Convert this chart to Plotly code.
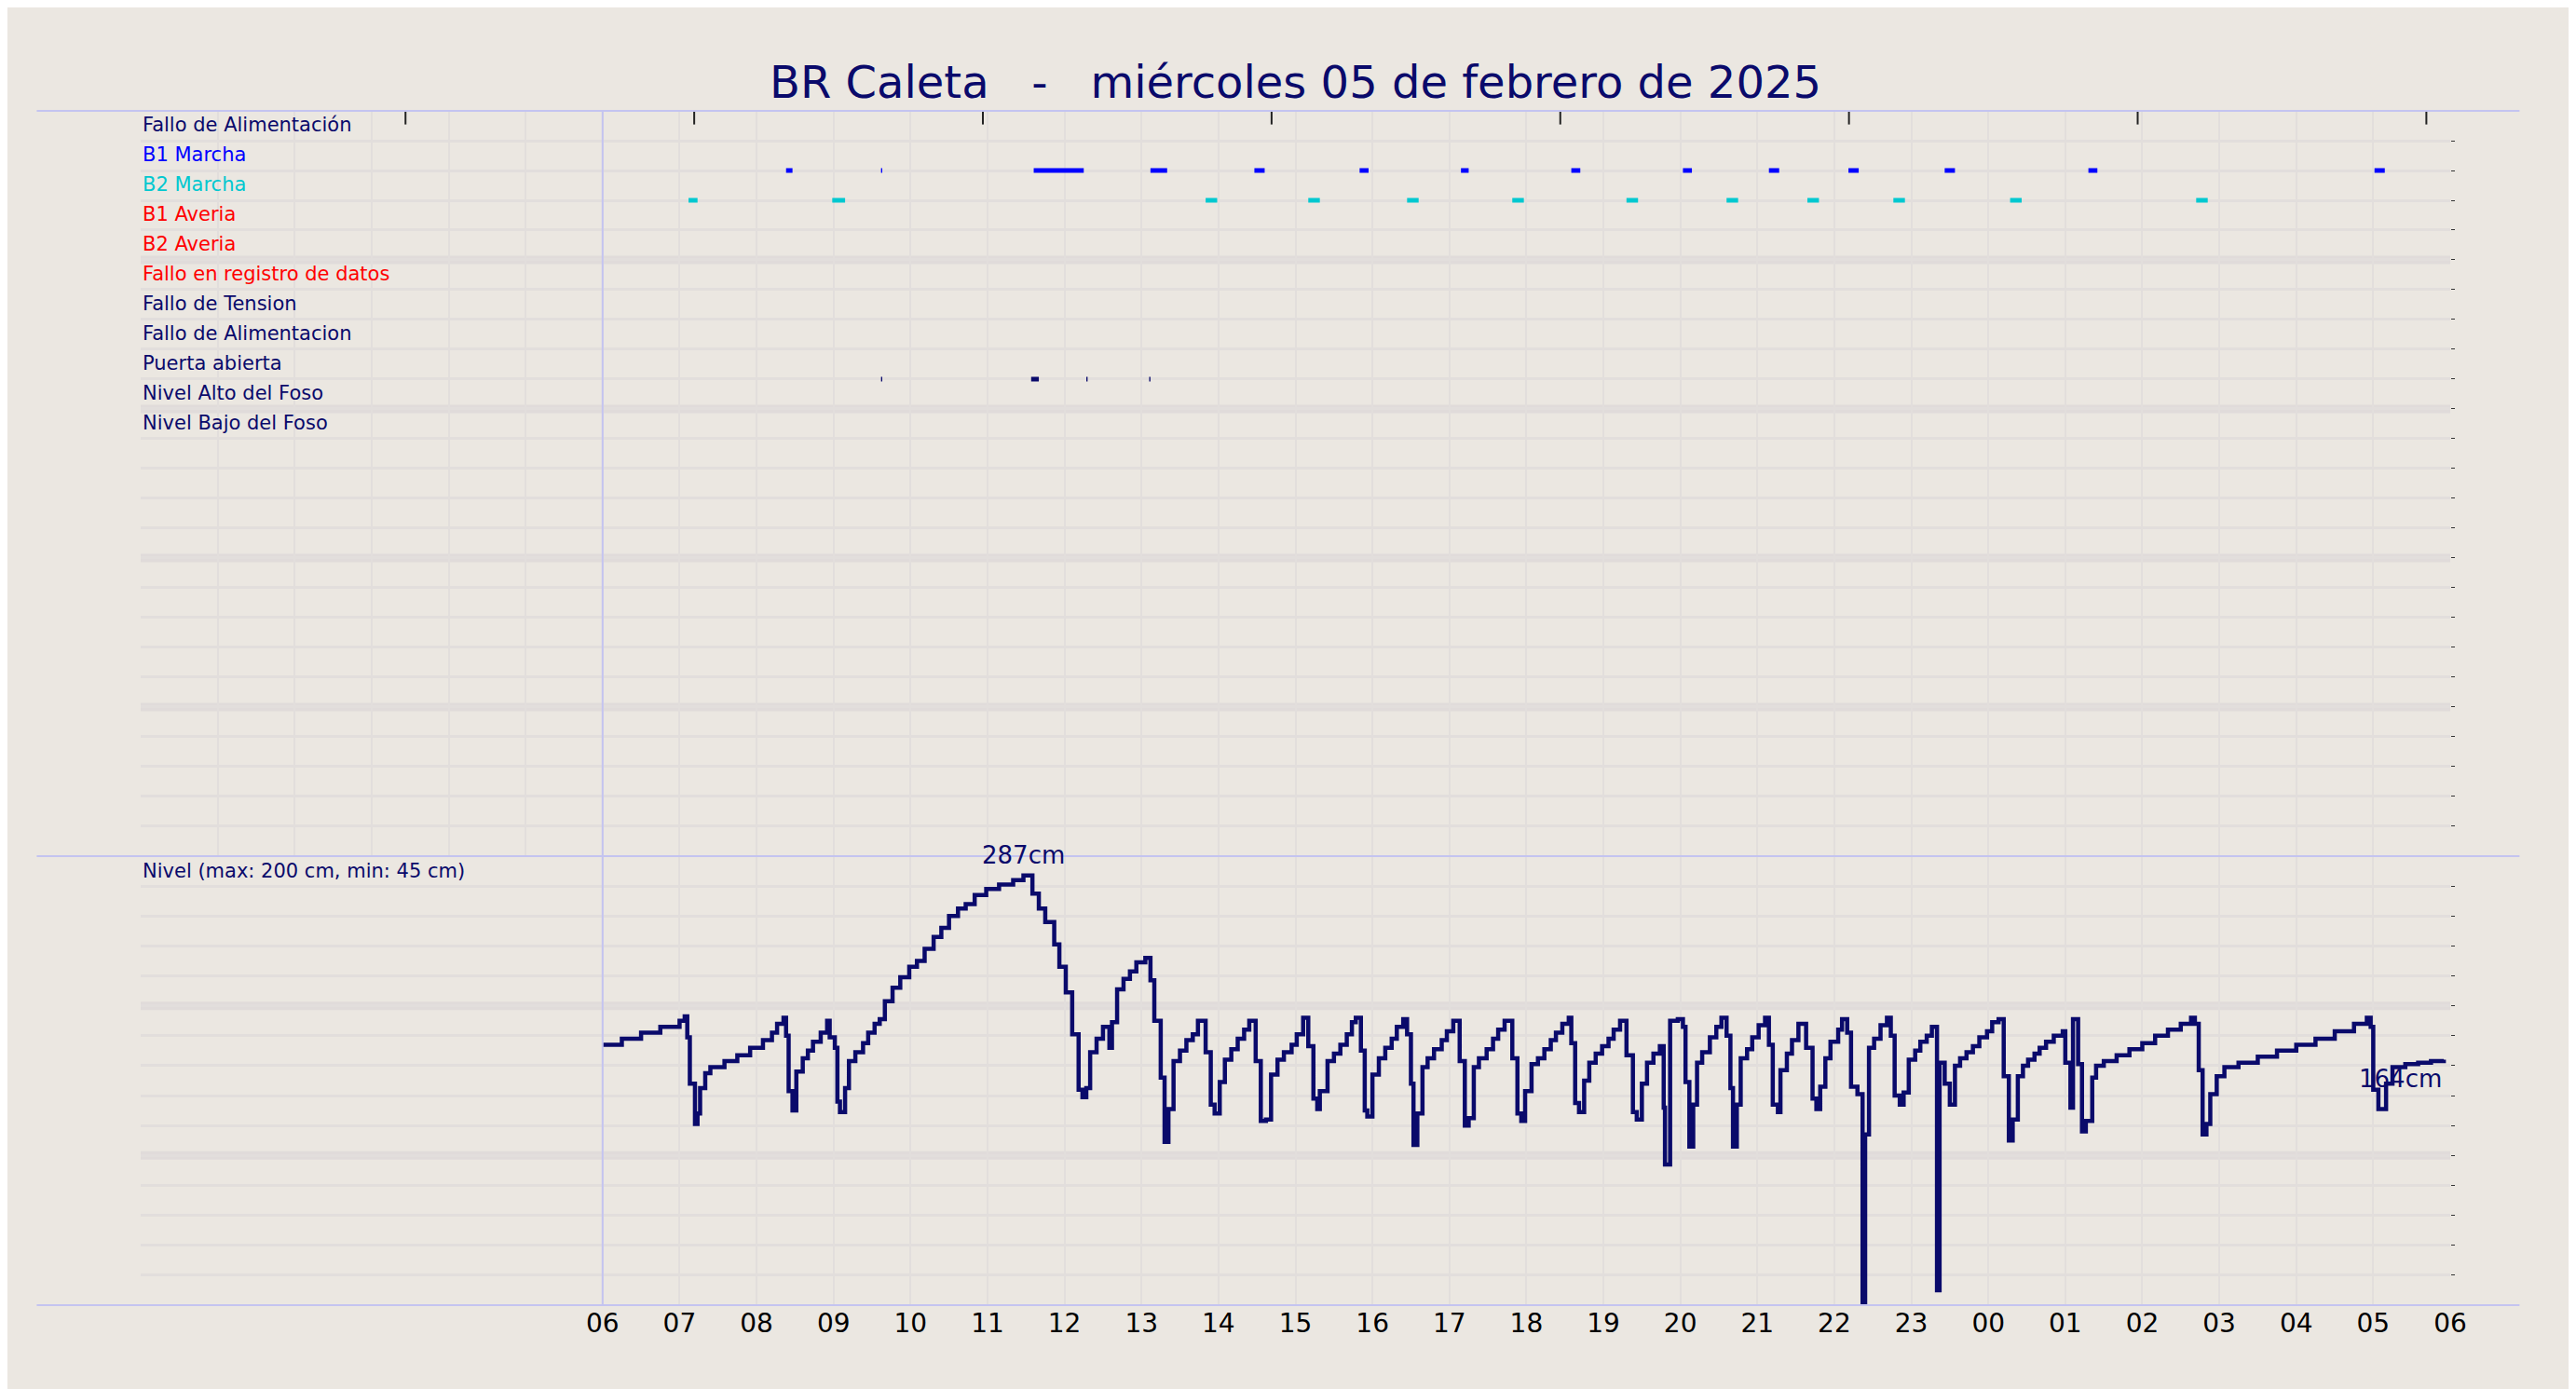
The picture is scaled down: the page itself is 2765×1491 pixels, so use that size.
import datetime as dt
import plotly.graph_objects as go

# eventos (fila de arriba a abajo) y su color de etiqueta
labels = ["Fallo de Alimentación", "B1 Marcha", "B2 Marcha", "B1 Averia", "B2 Averia",
          "Fallo en registro de datos", "Fallo de Tension", "Fallo de Alimentacion",
          "Puerta abierta", "Nivel Alto del Foso", "Nivel Bajo del Foso"]
label_colors = ["#0a0a6b", "#0000ff", "#00c8d0", "#ff0000", "#ff0000", "#ff0000",
                "#0a0a6b", "#0a0a6b", "#0a0a6b", "#0a0a6b", "#0a0a6b"]

b1_on = [("08:23", "08:28"), ("09:37", "09:38"), ("11:36", "12:15"), ("13:07", "13:20"),
         ("14:28", "14:36"), ("15:50", "15:57"), ("17:09", "17:15"), ("18:35", "18:42"),
         ("20:02", "20:09"), ("21:09", "21:17"), ("22:11", "22:19"), ("23:26", "23:34"),
         ("01:18", "01:25"), ("05:01", "05:09")]
b2_on = [("07:07", "07:14"), ("08:59", "09:09"), ("13:50", "13:59"), ("15:10", "15:19"),
         ("16:27", "16:36"), ("17:49", "17:58"), ("19:18", "19:27"), ("20:36", "20:45"),
         ("21:39", "21:48"), ("22:46", "22:55"), ("00:17", "00:26"), ("02:42", "02:51")]
door_open = [("09:37", "09:38"), ("11:34", "11:40"), ("12:17", "12:18"), ("13:06", "13:07")]

level_times = [
    "06:00", "06:15", "06:30", "06:45", "07:00", "07:04", "07:06", "07:08", "07:12", "07:14",
    "07:16", "07:20", "07:24", "07:35", "07:45", "07:55", "08:05", "08:12", "08:16", "08:21",
    "08:23", "08:25", "08:28", "08:31", "08:36", "08:40", "08:44", "08:50", "08:55", "08:57",
    "09:01", "09:03", "09:05", "09:09", "09:12", "09:17", "09:23", "09:27", "09:32", "09:36",
    "09:40", "09:46", "09:52", "09:59", "10:05", "10:11", "10:18", "10:24", "10:30", "10:37",
    "10:43", "10:50", "10:59", "11:09", "11:20", "11:28", "11:35", "11:40", "11:45", "11:52",
    "11:56", "12:01", "12:06", "12:11", "12:14", "12:17", "12:20", "12:25", "12:30", "12:35",
    "12:37", "12:41", "12:46", "12:51", "12:56", "13:03", "13:07", "13:10", "13:15", "13:18",
    "13:21", "13:25", "13:30", "13:35", "13:40", "13:44", "13:50", "13:54", "13:57", "14:01",
    "14:05", "14:10", "14:15", "14:20", "14:24", "14:29", "14:33", "14:37", "14:41", "14:46",
    "14:51", "14:57", "15:01", "15:06", "15:10", "15:14", "15:17", "15:19", "15:25", "15:30",
    "15:35", "15:40", "15:44", "15:47", "15:51", "15:54", "15:56", "16:00", "16:05", "16:10",
    "16:15", "16:19", "16:24", "16:27", "16:30", "16:32", "16:35", "16:39", "16:43", "16:48",
    "16:54", "16:58", "17:03", "17:08", "17:12", "17:15", "17:19", "17:23", "17:29", "17:34",
    "17:38", "17:43", "17:49", "17:53", "17:56", "17:59", "18:04", "18:09", "18:14", "18:19",
    "18:23", "18:28", "18:33", "18:35", "18:38", "18:41", "18:45", "18:49", "18:54", "18:59",
    "19:04", "19:08", "19:13", "19:18", "19:23", "19:26", "19:30", "19:34", "19:39", "19:44",
    "19:47", "19:48", "19:52", "19:58", "20:02", "20:04", "20:07", "20:10", "20:13", "20:17",
    "20:23", "20:28", "20:32", "20:36", "20:39", "20:41", "20:44", "20:47", "20:52", "20:56",
    "21:01", "21:06", "21:09", "21:12", "21:16", "21:18", "21:23", "21:27", "21:32", "21:38",
    "21:43", "21:46", "21:49", "21:53", "21:57", "22:03", "22:06", "22:10", "22:13", "22:18",
    "22:22", "22:24", "22:27", "22:31", "22:36", "22:41", "22:44", "22:47", "22:51", "22:54",
    "22:58", "23:03", "23:07", "23:12", "23:16", "23:20", "23:22", "23:26", "23:30", "23:34",
    "23:38", "23:43", "23:48", "23:53", "23:59", "00:03", "00:08", "00:12", "00:16", "00:19",
    "00:23", "00:27", "00:31", "00:36", "00:40", "00:45", "00:51", "00:58", "01:00", "01:04",
    "01:06", "01:10", "01:13", "01:16", "01:21", "01:24", "01:30", "01:40", "01:50", "02:00",
    "02:10", "02:20", "02:30", "02:38", "02:41", "02:44", "02:47", "02:50", "02:53", "02:58",
    "03:04", "03:15", "03:30", "03:45", "04:00", "04:15", "04:30", "04:45", "04:55", "04:58",
    "05:00", "05:04", "05:10", "05:15", "05:25", "05:35", "05:45", "05:55"]
level_cm = [
    174, 178, 182, 186, 190, 193, 179, 148, 121, 128,
    145, 155, 159, 163, 167, 172, 177, 182, 188, 192,
    180, 143, 130, 156, 165, 170, 176, 182, 190, 179,
    172, 136, 129, 145, 163, 169, 175, 182, 188, 191,
    203, 212, 219, 226, 230, 238, 246, 252, 260, 265,
    268, 274, 278, 281, 284, 287, 275, 265, 256, 241,
    226, 209, 181, 144, 139, 145, 169, 178, 186, 172,
    189, 211, 218, 223, 229, 232, 217, 190, 152, 109,
    131, 163, 170, 177, 181, 190, 169, 134, 128, 149,
    164, 171, 178, 184, 190, 163, 123, 124, 154, 164,
    169, 174, 181, 192, 173, 138, 131, 143, 163, 168,
    174, 181, 189, 192, 170, 130, 126, 154, 165, 172,
    178, 186, 191, 181, 148, 107, 128, 159, 165, 171,
    177, 183, 190, 163, 120, 125, 159, 165, 171, 178,
    184, 190, 165, 128, 123, 143, 161, 165, 171, 177,
    182, 188, 192, 175, 135, 129, 150, 162, 168, 173,
    178, 184, 190, 167, 129, 124, 148, 162, 168, 173,
    132, 94, 190, 191, 186, 149, 106, 134, 162, 169,
    179, 186, 192, 180, 145, 106, 134, 165, 171, 179,
    187, 192, 174, 134, 129, 157, 168, 177, 188, 172,
    138, 131, 146, 165, 176, 184, 191, 182, 146, 141,
    0, 114, 172, 178, 187, 192, 180, 140, 134, 142,
    164, 170, 176, 180, 186, 10, 162, 148, 134, 160,
    165, 169, 173, 179, 183, 189, 191, 153, 110, 124,
    153, 160, 164, 168, 172, 176, 180, 183, 162, 132,
    191, 161, 116, 123, 152, 160, 163, 167, 171, 175,
    180, 184, 188, 192, 188, 157, 114, 121, 141, 153,
    159, 162, 166, 170, 174, 178, 183, 188, 192, 186,
    144, 131, 148, 159, 161, 162, 163, 164]

BASE = dt.datetime(2025, 2, 5)
NAVY = "#0a0a6b"
BG = "#ebe7e1"
GRID = "#e2dedc"


def ts(hhmm):
    h, m = map(int, hhmm.split(":"))
    day = 1 if h < 6 else 0
    return BASE + dt.timedelta(days=day, hours=h, minutes=m)


def segments(spans, yval):
    xs, ys = [], []
    for a, b in spans:
        xs += [ts(a), ts(b), None]
        ys += [yval, yval, None]
    return xs, ys


fig = go.Figure()

row_y = [480 - 20 * i for i in range(len(labels))]
for spans, idx, color in [(b1_on, 1, "#0000ff"), (b2_on, 2, "#00c8d0"), (door_open, 8, NAVY)]:
    xs, ys = segments(spans, row_y[idx])
    fig.add_trace(go.Scatter(x=xs, y=ys, mode="lines", line=dict(color=color, width=5),
                             xaxis="x2", yaxis="y2", showlegend=False, hoverinfo="skip"))

lx = [ts(t) for t in level_times]
fig.add_trace(go.Scatter(x=lx, y=level_cm, mode="lines", line=dict(color=NAVY, width=4.5, shape="hv"),
                         showlegend=False))

x_start = BASE
x_end = BASE + dt.timedelta(days=1, hours=6)
tickvals = [BASE + dt.timedelta(hours=6 + h) for h in range(25)]
ticktext = [t.strftime("%H") for t in tickvals]

axis_common = dict(range=[x_start, x_end], showgrid=True, gridcolor=GRID, gridwidth=2,
                   dtick=3600000, tick0=BASE, zeroline=False, showline=False)
fig.update_layout(
    width=2765, height=1491,
    paper_bgcolor=BG, plot_bgcolor=BG,
    margin=dict(l=143, r=143, t=111, b=98),
    title=dict(text="BR Caleta   -   miércoles 05 de febrero de 2025", x=0.5, y=0.946,
               xanchor="center", yanchor="middle",
               font=dict(family="DejaVu Sans", size=48, color=NAVY)),
    font=dict(family="DejaVu Sans", color=NAVY),
    xaxis=dict(**axis_common, anchor="y", tickmode="array", tickvals=tickvals, ticktext=ticktext,
               ticks="", tickfont=dict(size=28, color="black")),
    yaxis=dict(domain=[0, 0.376], range=[0, 300], dtick=20, showgrid=True, gridcolor=GRID,
               gridwidth=3, zeroline=False, showticklabels=False, side="right",
               ticks="outside", ticklen=4, tickcolor="#333"),
    xaxis2=dict(**axis_common, anchor="y2", showticklabels=False),
    yaxis2=dict(domain=[0.376, 1], range=[0, 500], dtick=20, showgrid=True, gridcolor=GRID,
                gridwidth=3, zeroline=False, showticklabels=False, side="right",
                ticks="outside", ticklen=4, tickcolor="#333"),
)

# top ticks on the upper panel
fig.add_trace(go.Scatter(x=[BASE + dt.timedelta(hours=3.44 + 3.75 * k) for k in range(8)],
                         y=[497] * 8, mode="markers", xaxis="x2", yaxis="y2",
                         marker=dict(symbol="line-ns", size=14, line=dict(width=2, color="#222")),
                         showlegend=False, hoverinfo="skip"))

shapes = []
for yv in (100, 200, 300, 400):
    shapes.append(dict(type="line", xref="x2 domain", yref="y2", x0=0, x1=1, y0=yv, y1=yv,
                       line=dict(color="#e0dbda", width=9), layer="below"))
for yv in (100, 200):
    shapes.append(dict(type="line", xref="x domain", yref="y", x0=0, x1=1, y0=yv, y1=yv,
                       line=dict(color="#e0dbda", width=9), layer="below"))
for yp in (0, 0.376, 1):
    shapes.append(dict(type="line", xref="paper", yref="paper", x0=-0.045, x1=1.03, y0=yp, y1=yp,
                       line=dict(color="#c4c4f0", width=2)))
shapes.append(dict(type="line", xref="x", yref="paper", x0=BASE + dt.timedelta(hours=6),
                   x1=BASE + dt.timedelta(hours=6), y0=0, y1=1, line=dict(color="#c4c4f0", width=2)))
fig.update_layout(shapes=shapes)

for lab, col, yv in zip(labels, label_colors, row_y):
    fig.add_annotation(text=lab, xref="x2 domain", yref="y2", x=0, y=yv + 2, xanchor="left",
                       yanchor="bottom", showarrow=False, font=dict(size=21, color=col))
fig.add_annotation(text="Nivel (max: 200 cm, min: 45 cm)", xref="x domain", yref="y", x=0, y=290,
                   xanchor="left", yanchor="middle", showarrow=False, font=dict(size=21, color=NAVY))
pk = level_cm.index(max(level_cm))
fig.add_annotation(text=f"{max(level_cm)}cm", x=lx[pk], y=max(level_cm) + 3, xanchor="center",
                   yanchor="bottom", showarrow=False, font=dict(size=26, color=NAVY))
fig.add_annotation(text=f"{level_cm[-1]}cm", x=lx[-1], y=level_cm[-1] - 2, xanchor="right",
                   yanchor="top", showarrow=False, font=dict(size=26, color=NAVY))

fig.write_html("out.html")
